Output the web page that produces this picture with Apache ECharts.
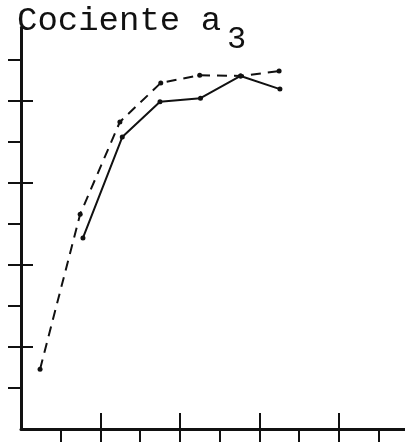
<!DOCTYPE html>
<html>
<head>
<meta charset="utf-8">
<script src="https://cdn.jsdelivr.net/npm/echarts@6/dist/echarts.min.js"></script>
<style>html,body{margin:0;padding:0;background:#fff;}#c{width:405px;height:448px;}</style>
</head>
<body>
<div id="c"></div>
<script>
// Data
var dashedX = [0.48, 1.49, 2.49, 3.52, 4.5, 5.53, 6.5];
var dashedY = [1.46, 5.24, 7.49, 8.44, 8.63, 8.61, 8.73];
var solidX = [1.56, 2.55, 3.5, 4.52, 5.53, 6.52];
var solidY = [4.66, 7.12, 7.98, 8.07, 8.61, 8.29];
var xTicksAll = [1, 2, 3, 4, 5, 6, 7, 8, 9];
var xTicksMajor = [2, 4, 6, 8];
var yTicksAll = [1, 2, 3, 4, 5, 6, 7, 8, 9];
var yTicksMajor = [2, 4, 6, 8];
var titleMain = 'Cociente a';
var titleSub = '3';

function pairs(xs, ys) { return xs.map(function (x, i) { return [x, ys[i]]; }); }

var ink = '#111';
var chart = echarts.init(document.getElementById('c'), null, {renderer: 'canvas'});
var XMAX = 9.67, YMAX = 9.8;
chart.setOption({
  animation: false,
  backgroundColor: '#fff',
  title: {
    text: '{m|' + titleMain + '}{s|' + titleSub + '}',
    left: 17, top: 4, padding: 0,
    textStyle: {
      rich: {
        m: {fontFamily: 'Liberation Mono', fontSize: 34, fontWeight: 'normal', color: ink, verticalAlign: 'top', lineHeight: 36},
        s: {fontFamily: 'Liberation Mono', fontSize: 32, fontWeight: 'normal', color: ink, verticalAlign: 'top', lineHeight: 36, padding: [20, 0, 0, 6]}
      }
    }
  },
  grid: {left: 21, right: 0, top: 429 - YMAX * 41, bottom: 19, containLabel: false},
  xAxis: [{
    type: 'value', min: 0, max: XMAX, interval: 1,
    splitLine: {show: false},
    axisLine: {show: true, lineStyle: {color: ink, width: 3}},
    axisTick: {show: true, inside: false, length: 13, customValues: xTicksAll, lineStyle: {color: ink, width: 2}},
    axisLabel: {show: false}
  }, {
    type: 'value', min: 0, max: XMAX, interval: 1, position: 'bottom',
    splitLine: {show: false},
    axisLine: {show: false},
    axisTick: {show: true, inside: true, length: 16, customValues: xTicksMajor, lineStyle: {color: ink, width: 2}},
    axisLabel: {show: false}
  }],
  yAxis: [{
    type: 'value', min: 0, max: YMAX, interval: 1,
    splitLine: {show: false},
    axisLine: {show: true, lineStyle: {color: ink, width: 3}},
    axisTick: {show: true, inside: false, length: 13, customValues: yTicksAll, lineStyle: {color: ink, width: 2}},
    axisLabel: {show: false}
  }, {
    type: 'value', min: 0, max: YMAX, interval: 1, position: 'left',
    splitLine: {show: false},
    axisLine: {show: false},
    axisTick: {show: true, inside: true, length: 12, customValues: yTicksMajor, lineStyle: {color: ink, width: 2}},
    axisLabel: {show: false}
  }],
  series: [{
    type: 'line', data: pairs(dashedX, dashedY),
    symbol: 'circle', symbolSize: 5, showSymbol: true,
    itemStyle: {color: ink},
    lineStyle: {color: ink, width: 2, type: [10, 7]}
  }, {
    type: 'line', data: pairs(solidX, solidY),
    symbol: 'circle', symbolSize: 5, showSymbol: true,
    itemStyle: {color: ink},
    lineStyle: {color: ink, width: 2, type: 'solid'}
  }]
});
</script>
</body>
</html>
